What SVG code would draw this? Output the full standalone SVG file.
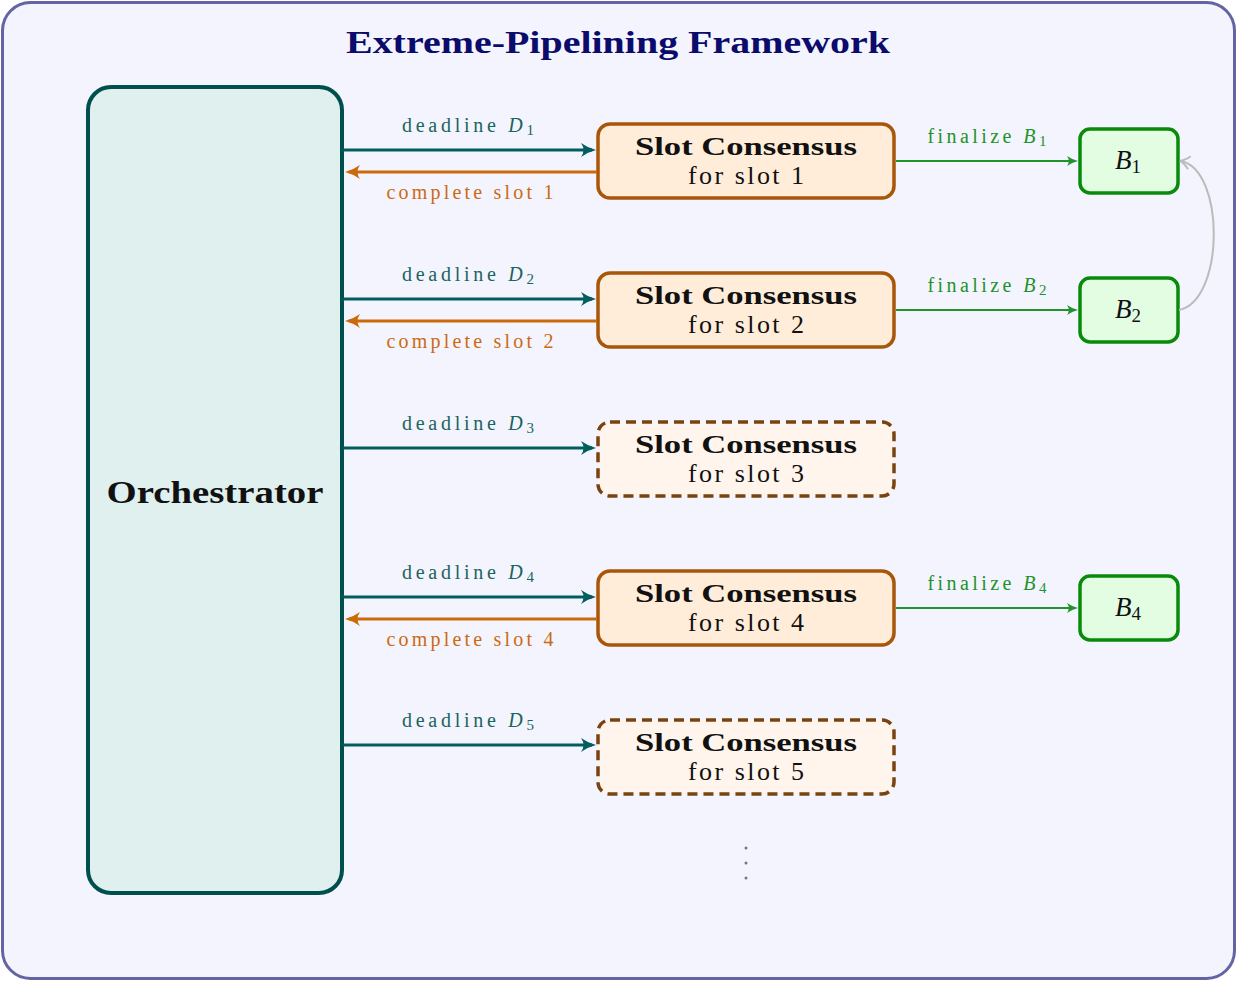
<svg xmlns="http://www.w3.org/2000/svg" width="1237" height="982" viewBox="0 0 1237 982">
<style>
text{font-family:"Liberation Serif","Times New Roman",serif;}
.title{font-size:32px;font-weight:bold;fill:#0b0b6b;}
.orch{font-size:31px;font-weight:bold;fill:#111;}
.sc{font-size:25px;font-weight:bold;fill:#111;}
.fs{font-size:26px;fill:#111;}
.lblD{font-size:20px;fill:#1a645e;}
.lblC{font-size:20px;fill:#cc6a10;}
.lblF{font-size:20px;fill:#22922a;}
.bt{font-size:27px;fill:#111;}
.it{font-style:italic;}
.slot{fill:#ffedd9;stroke:#a8560a;stroke-width:3.5;}
.slotd{fill:#fff5ec;stroke:#7a4210;stroke-width:3.5;stroke-dasharray:10 6;}
.blk{fill:#e3fde3;stroke:#0a8a0a;stroke-width:3.5;}
.dl{stroke:#005e5e;stroke-width:2.8;fill:none;}
.cp{stroke:#cc6a0a;stroke-width:2.8;fill:none;}
.fn{stroke:#22922a;stroke-width:1.8;fill:none;}
</style>
<defs>
<marker id="ahTeal" markerUnits="userSpaceOnUse" viewBox="-16 -8 22 16" refX="0" refY="0" markerWidth="22" markerHeight="16" orient="auto" overflow="visible">
<path d="M4,0 Q-4,-2 -11,-7 Q-6,0 -11,7 Q-4,2 4,0 Z" fill="#005e5e"/>
</marker>
<marker id="ahOrange" markerUnits="userSpaceOnUse" viewBox="-16 -8 22 16" refX="0" refY="0" markerWidth="22" markerHeight="16" orient="auto" overflow="visible">
<path d="M4,0 Q-4,-2 -11,-7 Q-6,0 -11,7 Q-4,2 4,0 Z" fill="#cc6a0a"/>
</marker>
<marker id="ahGreen" markerUnits="userSpaceOnUse" viewBox="-12 -6 16 12" refX="0" refY="0" markerWidth="16" markerHeight="12" orient="auto" overflow="visible">
<path d="M3,0 Q-3,-1.5 -8,-5 Q-4.5,0 -8,5 Q-3,1.5 3,0 Z" fill="#22922a"/>
</marker>
<marker id="ahGray" markerUnits="userSpaceOnUse" viewBox="-12 -8 16 16" refX="0" refY="0" markerWidth="16" markerHeight="16" orient="auto" overflow="visible">
<path d="M-8,-6 Q-3,-1 1,0 Q-3,1 -8,6" fill="none" stroke="#bbbbbb" stroke-width="2" stroke-linecap="round"/>
</marker>
</defs>

<g id="frame">
<rect x="2.5" y="2.5" width="1232" height="976" rx="28" fill="#f4f4fe" stroke="#6464a4" stroke-width="3"/>
<text class="title" x="618" y="53" text-anchor="middle" textLength="544" lengthAdjust="spacingAndGlyphs">Extreme-Pipelining Framework</text>
</g>

<g id="orchestrator">
<rect x="88" y="87" width="254" height="806" rx="23" fill="#dff0ef" stroke="#004f4f" stroke-width="4"/>
<text class="orch" x="215" y="503" text-anchor="middle" textLength="217" lengthAdjust="spacingAndGlyphs">Orchestrator</text>
</g>

<g id="slot1">
<rect class="slot" x="598" y="124" width="296" height="74" rx="12"/>
<text class="sc" x="746" y="155" text-anchor="middle" textLength="222" lengthAdjust="spacingAndGlyphs">Slot Consensus</text>
<text class="fs" x="746" y="184" text-anchor="middle" textLength="116">for slot 1</text>
</g>
<g id="slot2">
<rect class="slot" x="598" y="273" width="296" height="74" rx="12"/>
<text class="sc" x="746" y="304" text-anchor="middle" textLength="222" lengthAdjust="spacingAndGlyphs">Slot Consensus</text>
<text class="fs" x="746" y="333" text-anchor="middle" textLength="116">for slot 2</text>
</g>
<g id="slot3">
<rect class="slotd" x="598" y="422" width="296" height="74" rx="12"/>
<text class="sc" x="746" y="453" text-anchor="middle" textLength="222" lengthAdjust="spacingAndGlyphs">Slot Consensus</text>
<text class="fs" x="746" y="482" text-anchor="middle" textLength="116">for slot 3</text>
</g>
<g id="slot4">
<rect class="slot" x="598" y="571" width="296" height="74" rx="12"/>
<text class="sc" x="746" y="602" text-anchor="middle" textLength="222" lengthAdjust="spacingAndGlyphs">Slot Consensus</text>
<text class="fs" x="746" y="631" text-anchor="middle" textLength="116">for slot 4</text>
</g>
<g id="slot5">
<rect class="slotd" x="598" y="720" width="296" height="74" rx="12"/>
<text class="sc" x="746" y="751" text-anchor="middle" textLength="222" lengthAdjust="spacingAndGlyphs">Slot Consensus</text>
<text class="fs" x="746" y="780" text-anchor="middle" textLength="116">for slot 5</text>
</g>

<g id="B1">
<rect class="blk" x="1080" y="129" width="98" height="64" rx="10"/>
<text class="bt" x="1128" y="169" text-anchor="middle"><tspan class="it">B</tspan><tspan font-size="19" dy="4">1</tspan></text>
</g>
<g id="B2">
<rect class="blk" x="1080" y="278" width="98" height="64" rx="10"/>
<text class="bt" x="1128" y="318" text-anchor="middle"><tspan class="it">B</tspan><tspan font-size="19" dy="4">2</tspan></text>
</g>
<g id="B4">
<rect class="blk" x="1080" y="576" width="98" height="64" rx="10"/>
<text class="bt" x="1128" y="616" text-anchor="middle"><tspan class="it">B</tspan><tspan font-size="19" dy="4">4</tspan></text>
</g>

<g id="connectors">
<line class="dl" x1="343" y1="150" x2="592" y2="150" marker-end="url(#ahTeal)"/>
<line class="cp" x1="597" y1="172" x2="349" y2="172" marker-end="url(#ahOrange)"/>
<line class="dl" x1="343" y1="299" x2="592" y2="299" marker-end="url(#ahTeal)"/>
<line class="cp" x1="597" y1="321" x2="349" y2="321" marker-end="url(#ahOrange)"/>
<line class="dl" x1="343" y1="448" x2="592" y2="448" marker-end="url(#ahTeal)"/>
<line class="dl" x1="343" y1="597" x2="592" y2="597" marker-end="url(#ahTeal)"/>
<line class="cp" x1="597" y1="619" x2="349" y2="619" marker-end="url(#ahOrange)"/>
<line class="dl" x1="343" y1="745" x2="592" y2="745" marker-end="url(#ahTeal)"/>

<line class="fn" x1="896" y1="161" x2="1075" y2="161" marker-end="url(#ahGreen)"/>
<line class="fn" x1="896" y1="310" x2="1075" y2="310" marker-end="url(#ahGreen)"/>
<line class="fn" x1="896" y1="608" x2="1075" y2="608" marker-end="url(#ahGreen)"/>

<path d="M1179,310 C1225,300 1225,170 1181,161" fill="none" stroke="#bbbbbb" stroke-width="2" marker-end="url(#ahGray)"/>

<text class="lblD" x="468" y="132" text-anchor="middle" textLength="132">deadline <tspan class="it">D</tspan><tspan font-size="15" dy="3">1</tspan></text>
<text class="lblC" x="470" y="199" text-anchor="middle" textLength="167">complete slot 1</text>
<text class="lblD" x="468" y="281" text-anchor="middle" textLength="132">deadline <tspan class="it">D</tspan><tspan font-size="15" dy="3">2</tspan></text>
<text class="lblC" x="470" y="348" text-anchor="middle" textLength="167">complete slot 2</text>
<text class="lblD" x="468" y="430" text-anchor="middle" textLength="132">deadline <tspan class="it">D</tspan><tspan font-size="15" dy="3">3</tspan></text>
<text class="lblD" x="468" y="579" text-anchor="middle" textLength="132">deadline <tspan class="it">D</tspan><tspan font-size="15" dy="3">4</tspan></text>
<text class="lblC" x="470" y="646" text-anchor="middle" textLength="167">complete slot 4</text>
<text class="lblD" x="468" y="727" text-anchor="middle" textLength="132">deadline <tspan class="it">D</tspan><tspan font-size="15" dy="3">5</tspan></text>

<text class="lblF" x="987" y="143" text-anchor="middle" textLength="119">finalize <tspan class="it">B</tspan><tspan font-size="15" dy="3">1</tspan></text>
<text class="lblF" x="987" y="292" text-anchor="middle" textLength="119">finalize <tspan class="it">B</tspan><tspan font-size="15" dy="3">2</tspan></text>
<text class="lblF" x="987" y="590" text-anchor="middle" textLength="119">finalize <tspan class="it">B</tspan><tspan font-size="15" dy="3">4</tspan></text>
</g>

<g id="ellipsis" fill="#777777">
<circle cx="746" cy="848" r="1.5"/>
<circle cx="746" cy="863" r="1.5"/>
<circle cx="746" cy="878" r="1.5"/>
</g>
</svg>
